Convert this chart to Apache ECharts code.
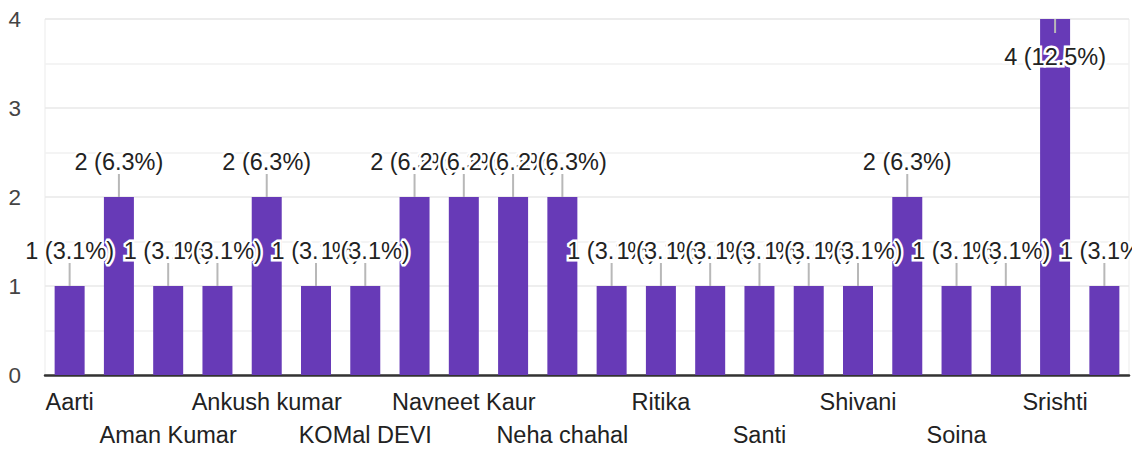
<!DOCTYPE html>
<html>
<head>
<meta charset="utf-8">
<script src="https://cdn.jsdelivr.net/npm/echarts@6/dist/echarts.min.js"></script>
<style>
  html, body { margin: 0; padding: 0; background: #fff; }
  #chart { width: 1132px; height: 451px; }
</style>
</head>
<body>
<div id="chart"></div>
<script>
// Categories (odd-index names are not shown in the reference, so they are left blank)
const categories = [
  'Aarti', '', 'Aman Kumar', '', 'Ankush kumar', '', 'KOMal DEVI', '',
  'Navneet Kaur', '', 'Neha chahal', '', 'Ritika', '', 'Santi', '',
  'Shivani', '', 'Soina', '', 'Srishti', ''
];
// Response counts per category
const counts = [1, 2, 1, 1, 2, 1, 1, 2, 2, 2, 2, 1, 1, 1, 1, 1, 1, 2, 1, 1, 4, 1];
// Y axis ticks
const yTicks = [0, 1, 2, 3, 4];

const total = counts.reduce((a, b) => a + b, 0);
const labels = counts.map(v => v + ' (' + (v / total * 100).toFixed(1) + '%)');

const FONT = 'Arial, "Liberation Sans", sans-serif';

const chart = echarts.init(document.getElementById('chart'), null, { renderer: 'svg' });

chart.setOption({
  animation: false,
  backgroundColor: '#fff',
  grid: {
    left: 45, right: 3, top: 19, bottom: 73.5,
    show: true, borderColor: '#ebebeb', borderWidth: 1
  },
  xAxis: {
    type: 'category',
    data: categories,
    axisTick: { show: false },
    axisLine: { lineStyle: { color: '#333', width: 2.5 } },
    axisLabel: {
      interval: 0,
      margin: 10,
      color: '#222',
      fontSize: 23.5,
      fontFamily: FONT,
      lineHeight: 33,
      formatter: function (value, index) {
        if (index % 2 === 1) return '';
        return (index % 4 === 2) ? '\n' + value : value;
      }
    }
  },
  yAxis: {
    type: 'value',
    min: yTicks[0],
    max: yTicks[yTicks.length - 1],
    interval: 1,
    axisLine: { show: false },
    axisTick: { show: false },
    axisLabel: { color: '#444', fontSize: 22.5, fontFamily: FONT, margin: 24 },
    splitLine: { lineStyle: { color: '#e9e9e9', width: 1.5 } },
    minorTick: { show: false, splitNumber: 2 },
    minorSplitLine: { show: true, lineStyle: { color: '#f0f0f0', width: 1.5 } }
  },
  series: [
    {
      type: 'bar',
      data: counts,
      barWidth: 30,
      itemStyle: { color: '#673ab7' },
      silent: true
    },
    {
      type: 'custom',
      data: counts.map((v, i) => [i, v]),
      encode: { x: 0, y: 1 },
      z: 5,
      silent: true,
      renderItem: function (params, api) {
        const i = params.dataIndex;
        const p = api.coord([api.value(0), api.value(1)]);
        const top = params.coordSys.y;
        const inside = p[1] - 47 < top;
        const lineEnd = inside ? p[1] + 14 : p[1] - 23;
        const textY = inside ? p[1] + 38 : p[1] - 35;
        return {
          type: 'group',
          children: [
            {
              type: 'line',
              shape: { x1: p[0], y1: p[1], x2: p[0], y2: lineEnd },
              style: { stroke: '#b8b8b8', lineWidth: 2 }
            },
            {
              type: 'text',
              x: p[0],
              y: textY,
              style: {
                text: labels[i],
                fill: '#222',
                fontSize: 23.5,
                fontFamily: FONT,
                align: 'center',
                verticalAlign: 'middle',
                stroke: '#fff',
                lineWidth: 5
              }
            }
          ]
        };
      }
    }
  ]
});
</script>
</body>
</html>
